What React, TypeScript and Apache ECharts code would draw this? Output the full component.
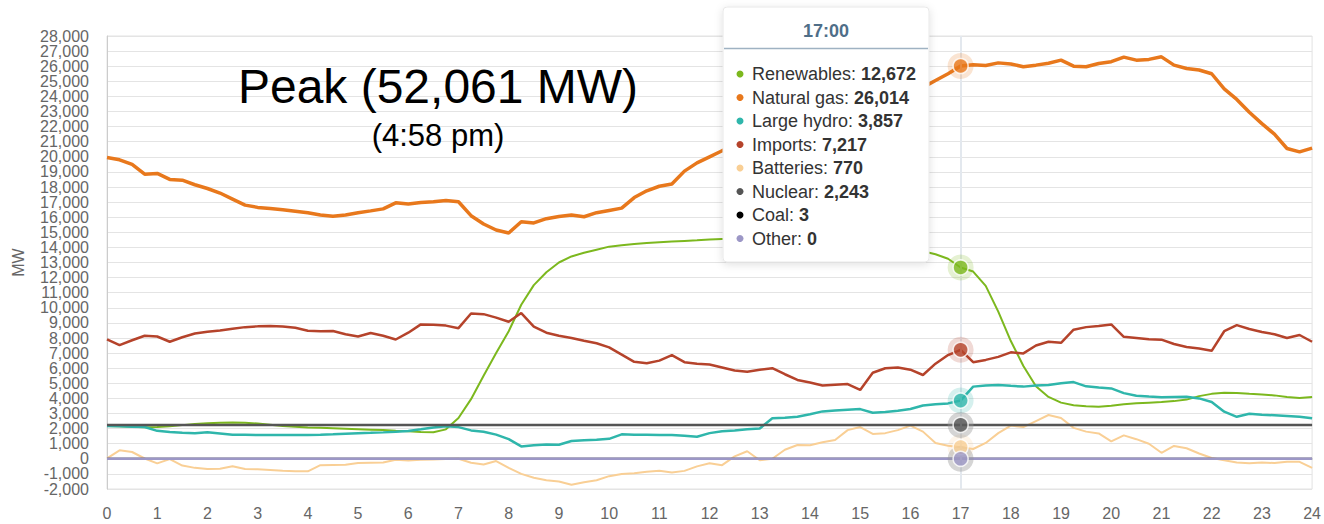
import React, { useEffect, useRef } from "react";
import * as echarts from "echarts";

// time of day in hours, 15-minute steps
const hours: number[] = Array.from({ length: 97 }, (_, i) => i / 4);

const renewables = [
  2170, 2150, 2120, 2090, 2110, 2160, 2230, 2300, 2360, 2390, 2400, 2390,
  2330, 2250, 2170, 2120, 2080, 2050, 2020, 1990, 1960, 1930, 1900, 1850,
  1820, 1780, 1760, 1950, 2700, 3950, 5500, 7000, 8450, 10200, 11500, 12350,
  13000, 13400, 13650, 13850, 14050, 14150, 14230, 14290, 14340, 14390, 14430, 14470,
  14520, 14560, 14580, 14600, 14610, 14600, 14580, 14550, 14510, 14460, 14400, 14330,
  14260, 14180, 14100, 14000, 13900, 13750, 13550, 13250, 12672, 12400, 11450, 9750,
  7800, 6150, 4800, 4100, 3720, 3550, 3480, 3450, 3520, 3620, 3680, 3720,
  3760, 3820, 3920, 4150, 4300, 4380, 4350, 4300, 4260, 4200, 4100, 4020,
  4100,
];

const naturalGas = [
  19950, 19800, 19500, 18850, 18900, 18500, 18450, 18150, 17900, 17600, 17200, 16800,
  16650, 16580, 16500, 16400, 16300, 16150, 16070, 16150, 16300, 16420, 16550, 16950,
  16870, 16980, 17020, 17100, 17020, 16100, 15550, 15150, 14950, 15700, 15620, 15900,
  16050, 16150, 16030, 16300, 16450, 16600, 17300, 17750, 18050, 18200, 19050, 19600,
  20000, 20400, 20700, 20950, 21250, 21550, 21850, 22150, 22450, 22700, 22950, 23200,
  23450, 23700, 23900, 24100, 24350, 24600, 25050, 25500, 26014, 26100, 26050, 26220,
  26150, 25960, 26070, 26200, 26400, 26000, 25960, 26180, 26300, 26600, 26400, 26450,
  26620, 26070, 25850, 25750, 25500, 24500, 23800, 22950, 22200, 21500, 20550, 20330,
  20575,
];

const largeHydro = [
  2170, 2150, 2130, 2110, 1850, 1780, 1720, 1700, 1760, 1680, 1600, 1590,
  1580, 1570, 1580, 1570, 1580, 1590, 1620, 1660, 1700, 1720, 1750, 1790,
  1840, 1950, 2080, 2160, 2100, 1880, 1790, 1600, 1300, 820, 900, 940,
  930, 1180, 1230, 1260, 1320, 1620, 1600, 1590, 1580, 1570, 1520, 1460,
  1700, 1820, 1880, 1950, 2010, 2680, 2720, 2790, 2950, 3140, 3200, 3250,
  3290, 3050, 3100, 3180, 3300, 3530, 3620, 3670, 3857, 4780, 4850, 4890,
  4830, 4780, 4850, 4890, 5000, 5080, 4800, 4720, 4660, 4350, 4180, 4120,
  4070, 4090, 4110, 4000, 3760, 3120, 2780, 2980, 2920, 2880, 2840, 2790,
  2680,
];

const imports = [
  7910, 7530, 7850, 8150, 8100, 7750, 8050, 8300, 8420, 8500, 8620, 8720,
  8770, 8790, 8760, 8680, 8480, 8440, 8460, 8250, 8100, 8330, 8150, 7900,
  8350, 8900, 8880, 8820, 8650, 9620, 9580, 9350, 9075, 9650, 8750, 8350,
  8150, 8000, 7820, 7650, 7380, 6900, 6420, 6330, 6500, 6870, 6400, 6300,
  6250, 6050, 5850, 5770, 5900, 6000, 5600, 5220, 5050, 4850, 4900, 4950,
  4560, 5700, 6000, 6050, 5900, 5550, 6300, 6870, 7217, 6400, 6550, 6750,
  7050, 6980, 7500, 7750, 7680, 8550, 8720, 8790, 8900, 8080, 8000, 7910,
  7890, 7600, 7400, 7300, 7150, 8450, 8850, 8600, 8400, 8250, 8000, 8200,
  7750,
];

const batteries = [
  30, 560, 450, 20, -300, -20, -450, -600, -680, -660, -500, -680,
  -700, -740, -790, -820, -830, -420, -410, -400, -280, -260, -250, -60,
  -120, -60, -40, -20, 0, -260, -380, -150, -600, -1000, -1250, -1420,
  -1500, -1720, -1550, -1420, -1150, -1000, -950, -850, -790, -900, -800, -500,
  -300, -420, 160, 500, -100, 0, 600, 910, 900, 1100, 1250, 1900,
  2100, 1650, 1700, 1900, 2200, 1800, 1050, 860, 770, 650, 1050, 1700,
  2200, 2100, 2500, 2900, 2700, 2050, 1800, 1680, 1150, 1550, 1300, 1000,
  400, 850, 700, 350, 50, -100, -250, -300, -250, -280, -200, -200,
  -600,
];

const flatHours = [0, 17, 24];
const nuclear = [2243, 2243, 2243];
const coal = [3, 3, 3];
const other = [0, 0, 0];

const seriesNames = ["Renewables", "Natural gas", "Large hydro", "Imports", "Batteries", "Nuclear", "Coal", "Other"];
const seriesColors = ["#7cb81e", "#e8781c", "#2fb6ab", "#b5432b", "#f9cf95", "#555555", "#000000", "#9c97c6"];
const seriesWidths = [2, 3.5, 2.5, 2.5, 2, 2.5, 2, 2.5];
const drawOrder = [0, 2, 4, 3, 1, 5, 6, 7];

const yTicks = { min: -2000, max: 28000, interval: 1000 };
const xTicks = { min: 0, max: 24, interval: 1 };
const hoverHour = 17;
const hoverLabel = "17:00";
const peakTitle = "Peak (52,061 MW)";
const peakTime = "(4:58 pm)";
const yAxisName = "MW";

const FONT = "Liberation Sans, Arial, sans-serif";

function fmt(v: number) {
  return v.toLocaleString("en-US");
}

function hexA(hex: string, a: number) {
  const n = parseInt(hex.slice(1), 16);
  return `rgba(${(n >> 16) & 255},${(n >> 8) & 255},${n & 255},${a})`;
}

export default function App() {
  const ref = useRef<HTMLDivElement>(null);
  useEffect(() => {
    if (!ref.current) return;
    const chart = echarts.init(ref.current, null, { renderer: "svg" });

    const seriesData: number[][][] = [
      hours.map((h, i) => [h, renewables[i]]),
      hours.map((h, i) => [h, naturalGas[i]]),
      hours.map((h, i) => [h, largeHydro[i]]),
      hours.map((h, i) => [h, imports[i]]),
      hours.map((h, i) => [h, batteries[i]]),
      flatHours.map((h, i) => [h, nuclear[i]]),
      flatHours.map((h, i) => [h, coal[i]]),
      flatHours.map((h, i) => [h, other[i]]),
    ];
    const hoverValues = seriesData.map((d) => {
      const p = d.find((q) => q[0] === hoverHour);
      return p ? p[1] : 0;
    });

    const lines: any[] = drawOrder.map((k, j) => ({
      type: "line",
      name: seriesNames[k],
      data: seriesData[k],
      showSymbol: false,
      symbol: "none",
      silent: true,
      z: 2 + j * 0.01,
      lineStyle: { color: seriesColors[k], width: seriesWidths[k] },
      itemStyle: { color: seriesColors[k] },
      ...(j === 0
        ? {
            markLine: {
              silent: true,
              symbol: "none",
              label: { show: false },
              lineStyle: { color: "#e3e8ee", width: 2, type: "solid" },
              data: [{ xAxis: hoverHour }],
            },
          }
        : {}),
    }));

    const markers: any[] = [];
    seriesNames.forEach((name, k) => {
      if (name === "Coal") return;
      const halo = name === "Other" || name === "Nuclear" ? "rgba(150,150,150,0.5)" : hexA(seriesColors[k], 0.25);
      markers.push({
        type: "scatter",
        name: name + " halo",
        data: [[hoverHour, hoverValues[k]]],
        symbolSize: 26,
        silent: true,
        z: 5,
        itemStyle: { color: halo },
      });
      markers.push({
        type: "scatter",
        name: name + " point",
        data: [[hoverHour, hoverValues[k]]],
        symbolSize: 15,
        silent: true,
        z: 6,
        itemStyle: { color: seriesColors[k], borderColor: "#ffffff", borderWidth: 1.5 },
      });
    });

    const tipX = 723;
    const tipY = 7;
    const tipW = 206;
    const tipH = 255;
    const rowY0 = 74;
    const rowStep = 23.5;
    const tipChildren: any[] = [
      {
        type: "rect",
        shape: { x: tipX, y: tipY, width: tipW, height: tipH, r: 4 },
        style: { fill: "#ffffff", stroke: "#e8e8e8", lineWidth: 1, shadowBlur: 8, shadowColor: "rgba(0,0,0,0.12)", shadowOffsetY: 2 },
        z: 100,
      },
      {
        type: "text",
        x: tipX + tipW / 2,
        y: 31,
        z: 101,
        style: { text: hoverLabel, align: "center", verticalAlign: "middle", fontSize: 18, fontWeight: "bold", fill: "#4f6e88", fontFamily: FONT },
      },
      {
        type: "line",
        z: 101,
        shape: { x1: tipX + 1, y1: 48.5, x2: tipX + tipW - 1, y2: 48.5 },
        style: { stroke: "#9fb2c2", lineWidth: 1.5 },
      },
    ];
    seriesNames.forEach((name, k) => {
      const y = rowY0 + k * rowStep;
      tipChildren.push({
        type: "circle",
        z: 101,
        shape: { cx: 740, cy: y, r: 3.5 },
        style: { fill: seriesColors[k] },
      });
      tipChildren.push({
        type: "text",
        z: 101,
        x: 752,
        y: y,
        style: {
          text: `{n|${name}: }{b|${fmt(hoverValues[k])}}`,
          verticalAlign: "middle",
          rich: {
            n: { fontSize: 18, fill: "#333333", fontFamily: FONT },
            b: { fontSize: 18, fill: "#333333", fontWeight: "bold", fontFamily: FONT },
          },
        },
      });
    });

    const labelStyle = { color: "#666666", fontSize: 16, fontFamily: FONT, margin: 18 };

    chart.setOption({
      animation: false,
      backgroundColor: "#ffffff",
      grid: { left: 107, right: 9, top: 36, bottom: 35, show: true, borderColor: "#e2e2e2", borderWidth: 1 },
      xAxis: {
        type: "value",
        min: xTicks.min,
        max: xTicks.max,
        interval: xTicks.interval,
        axisLine: { show: false },
        axisTick: { show: false },
        splitLine: { show: false },
        axisLabel: { color: "#666666", fontSize: 16, margin: 16, fontFamily: FONT, showMinLabel: true, showMaxLabel: true },
      },
      yAxis: [
        {
          type: "value",
          min: yTicks.min,
          max: yTicks.max,
          interval: yTicks.interval,
          name: yAxisName,
          nameLocation: "middle",
          nameGap: 81,
          nameRotate: 90,
          nameTextStyle: { color: "#666666", fontSize: 16, fontFamily: FONT },
          axisLine: { show: true, lineStyle: { color: "#cccccc" } },
          axisTick: { show: false },
          splitLine: { show: true, lineStyle: { color: "#e4e4e4", width: 1 } },
          axisLabel: {
            ...labelStyle,
            showMinLabel: false,
            showMaxLabel: false,
            formatter: (v: number) => fmt(v),
          },
        },
        {
          type: "value",
          position: "left",
          min: yTicks.min,
          max: yTicks.max,
          interval: yTicks.interval * 2,
          axisLine: { show: false },
          axisTick: { show: false },
          splitLine: { show: false },
          axisLabel: {
            ...labelStyle,
            showMinLabel: true,
            showMaxLabel: true,
            formatter: (v: number) => (v === yTicks.min || v === yTicks.max ? fmt(v) : ""),
          },
        },
      ],
      series: [...lines, ...markers],
      graphic: [
        {
          type: "text",
          x: 438,
          y: 86,
          z: 50,
          style: { text: peakTitle, align: "center", verticalAlign: "middle", fontSize: 48, fill: "#000000", fontFamily: FONT },
        },
        {
          type: "text",
          x: 438,
          y: 135,
          z: 50,
          style: { text: peakTime, align: "center", verticalAlign: "middle", fontSize: 31, fill: "#000000", fontFamily: FONT },
        },
        { type: "group", children: tipChildren, z: 100 },
      ],
    });
    return () => chart.dispose();
  }, []);
  return (
    <div
      ref={ref}
      style={{ position: "absolute", left: 0, top: 0, width: 1324, height: 524, background: "#fff" }}
    />
  );
}
